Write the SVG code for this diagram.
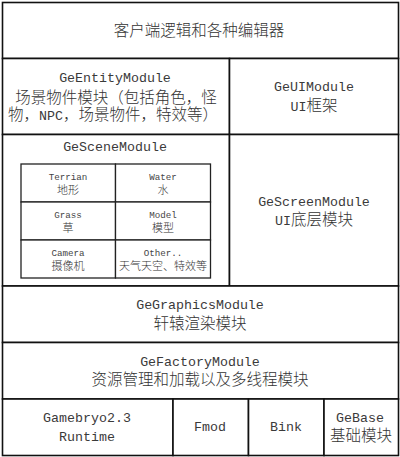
<svg xmlns="http://www.w3.org/2000/svg" width="400" height="457" viewBox="0 0 400 457">
<style>
.c{fill:#fff;stroke:#111;stroke-width:1.6}
.s{fill:#fff;stroke:#222;stroke-width:1.3}
text{text-anchor:middle;fill:#333}
.lat{font-family:"Liberation Mono",monospace;font-size:13.3px;fill:#3a3a3a}
.cjk{font-family:"Noto Sans CJK SC",sans-serif;font-size:15.5px;font-weight:300}
.slat{font-family:"Liberation Mono",monospace;font-size:9.2px;fill:#444}
.scjk{font-family:"Noto Sans CJK SC",sans-serif;font-size:11px;font-weight:300;fill:#333}
</style>
<rect x="0" y="0" width="400" height="457" fill="#fff"/>
<g id="client">
<rect class="c" x="2.5" y="2.5" width="396" height="56"/>
<text class="cjk" x="199" y="36">客户端逻辑和各种编辑器</text>
</g>
<g id="entity">
<rect class="c" x="2.5" y="58.5" width="227" height="76"/>
<text class="lat" x="115" y="82">GeEntityModule</text>
<text class="cjk" x="116" y="103">场景物件模块（包括角色，怪</text>
<text class="cjk" x="113" y="120">物，<tspan class="lat">NPC</tspan>，场景物件，特效等）</text>
</g>
<g id="ui">
<rect class="c" x="229.5" y="58.5" width="169" height="76"/>
<text class="lat" x="314" y="91">GeUIModule</text>
<text class="cjk" x="314" y="111"><tspan class="lat">UI</tspan>框架</text>
</g>
<g id="scene">
<rect class="c" x="2.5" y="134.5" width="227" height="151.5"/>
<text class="lat" x="115" y="151">GeSceneModule</text>
<g id="terrian">
<rect class="s" x="21" y="164" width="94.5" height="38"/>
<text class="slat" x="68" y="180">Terrian</text>
<text class="scjk" x="68" y="194">地形</text>
</g>
<g id="water">
<rect class="s" x="115.5" y="164" width="95" height="38"/>
<text class="slat" x="163" y="180">Water</text>
<text class="scjk" x="163" y="194">水</text>
</g>
<g id="grass">
<rect class="s" x="21" y="202" width="94.5" height="38"/>
<text class="slat" x="68" y="218">Grass</text>
<text class="scjk" x="68" y="232">草</text>
</g>
<g id="model">
<rect class="s" x="115.5" y="202" width="95" height="38"/>
<text class="slat" x="163" y="218">Model</text>
<text class="scjk" x="163" y="232">模型</text>
</g>
<g id="camera">
<rect class="s" x="21" y="240" width="94.5" height="38"/>
<text class="slat" x="68" y="256">Camera</text>
<text class="scjk" x="68" y="270">摄像机</text>
</g>
<g id="other">
<rect class="s" x="115.5" y="240" width="95" height="38"/>
<text class="slat" x="163" y="256">Other..</text>
<text class="scjk" x="163" y="270">天气天空、特效等</text>
</g>
</g>
<g id="screen">
<rect class="c" x="229.5" y="134.5" width="169" height="151.5"/>
<text class="lat" x="314" y="206">GeScreenModule</text>
<text class="cjk" x="314" y="225"><tspan class="lat">UI</tspan>底层模块</text>
</g>
<g id="graphics">
<rect class="c" x="2.5" y="286" width="396" height="56.5"/>
<text class="lat" x="200" y="309">GeGraphicsModule</text>
<text class="cjk" x="200" y="329">轩辕渲染模块</text>
</g>
<g id="factory">
<rect class="c" x="2.5" y="342.5" width="396" height="56.5"/>
<text class="lat" x="200" y="366">GeFactoryModule</text>
<text class="cjk" x="200" y="385">资源管理和加载以及多线程模块</text>
</g>
<g id="gamebryo">
<rect class="c" x="2.5" y="399" width="170.5" height="56.5"/>
<text class="lat" x="87" y="422">Gamebryo2.3</text>
<text class="lat" x="87" y="441">Runtime</text>
</g>
<g id="fmod">
<rect class="c" x="173" y="399" width="75.5" height="56.5"/>
<text class="lat" x="210" y="431">Fmod</text>
</g>
<g id="bink">
<rect class="c" x="248.5" y="399" width="75.5" height="56.5"/>
<text class="lat" x="286" y="431">Bink</text>
</g>
<g id="gebase">
<rect class="c" x="324" y="399" width="74.5" height="56.5"/>
<text class="lat" x="360" y="422">GeBase</text>
<text class="cjk" x="361" y="441">基础模块</text>
</g>
<g id="connectors"/>
</svg>
